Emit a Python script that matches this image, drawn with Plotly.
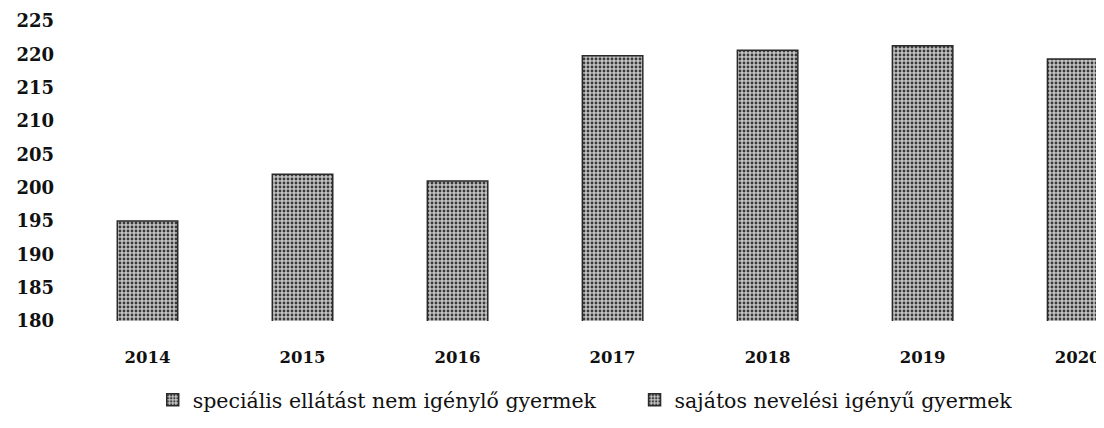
import plotly.graph_objects as go

years = ["2014", "2015", "2016", "2017", "2018", "2019", "2020"]
series_names = ["speciális ellátást nem igénylő gyermek", "sajátos nevelési igényű gyermek"]
values_general = [195, 202, 201, 219.8, 220.6, 221.3, 219.3]
values_sni = [None, None, None, None, None, None, None]
y_ticks = [180, 185, 190, 195, 200, 205, 210, 215, 220, 225]

pattern = dict(shape=".", fgcolor="#3a3a3a", bgcolor="#c4c4c4", size=4, solidity=0.4, fillmode="replace")
legend_font = dict(family="DejaVu Serif", size=20.5, color="#111")

fig = go.Figure()
fig.add_trace(go.Bar(
    x=years, y=values_general, name=series_names[0],
    width=0.39, legend="legend",
    marker=dict(color="#a9a9a9", pattern=pattern, line=dict(color="#2a2a2a", width=1.5)),
))
fig.add_trace(go.Bar(
    x=years, y=values_sni, name=series_names[1],
    width=0.39, legend="legend2",
    marker=dict(color="#a9a9a9", pattern=pattern, line=dict(color="#2a2a2a", width=1.5)),
))

fig.update_layout(
    width=1096, height=412,
    margin=dict(l=62, r=0, t=13, b=99),
    paper_bgcolor="white", plot_bgcolor="white",
    barmode="overlay",
    showlegend=True,
    legend=dict(orientation="h", x=0.080, xanchor="left", y=-0.265, yanchor="middle",
                font=legend_font, itemwidth=30),
    legend2=dict(orientation="h", x=0.546, xanchor="left", y=-0.265, yanchor="middle",
                 font=legend_font, itemwidth=30),
    xaxis=dict(range=[-0.5, 6.17], showgrid=False, showline=False, zeroline=False, ticks="",
               tickfont=dict(family="DejaVu Serif", size=16.5, color="#111", weight="bold"),
               ticklabelstandoff=24),
    yaxis=dict(range=[180, 225], tickvals=y_ticks, showgrid=False, showline=False, zeroline=False,
               ticks="", tickfont=dict(family="DejaVu Serif", size=18, color="#111", weight="bold"),
               ticklabelstandoff=15),
)
fig.write_html("out.html")
